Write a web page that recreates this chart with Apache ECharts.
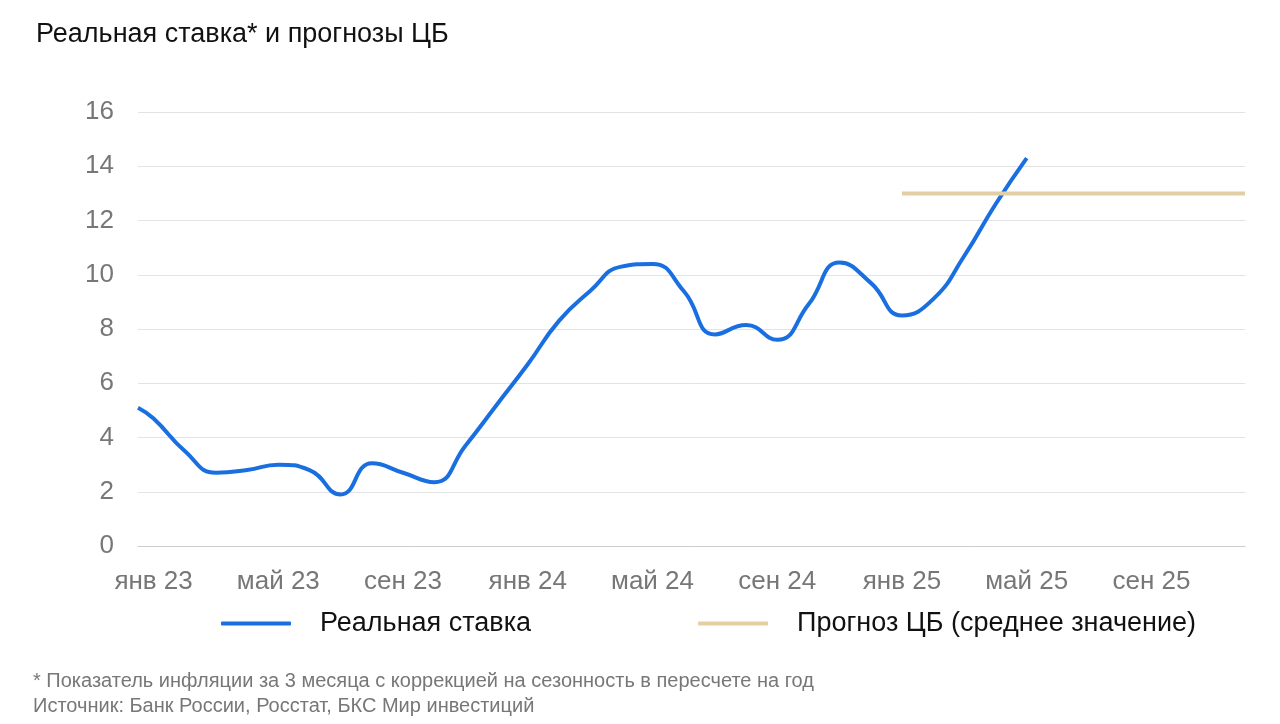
<!DOCTYPE html>
<html lang="ru">
<head>
<meta charset="UTF-8">
<title>Реальная ставка</title>
<style>
  body { margin: 0; background: #fff; }
  #c { width: 1280px; height: 724px; }
</style>
</head>
<body>
<div id="c"></div>
<script src="https://cdn.jsdelivr.net/npm/echarts@6/dist/echarts.min.js"></script>
<script>
// half-month steps from dec 22 (mid) to dec 25
var monthNames = ['янв', 'фев', 'мар', 'апр', 'май', 'июн', 'июл', 'авг', 'сен', 'окт', 'ноя', 'дек'];
// real rate at month points: янв 23 .. май 25
var realRate = [4.7, 3.5, 2.7, 2.8, 3.0, 2.8, 1.9, 3.05, 2.7, 2.35, 3.7, 5.2, 6.7, 8.3, 9.4, 10.3,
  10.4, 9.4, 7.8, 8.15, 7.6, 8.9, 10.45, 9.7, 8.5, 9.1, 10.7, 12.6, 14.3];
var firstValue = 5.1; // value at left edge
var forecastValue = 13;
var forecastStartMonth = 24; // янв 25

var FONT = 'Liberation Sans';

var cats = [];
for (var i = 0; i < 72; i++) {
  var m = (i - 1) / 2;
  if (i % 2 === 1) {
    cats.push(monthNames[m % 12] + ' ' + (23 + Math.floor(m / 12)));
  } else {
    cats.push('');
  }
}
var lineData = [], fcData = [];
for (var i = 0; i < 72; i++) {
  var m = (i - 1) / 2;
  if (i === 0) lineData.push(firstValue);
  else if (i % 2 === 1 && m < realRate.length) lineData.push(realRate[m]);
  else lineData.push(null);
  fcData.push(m >= forecastStartMonth ? forecastValue : null);
}

var chart = echarts.init(document.getElementById('c'));
chart.setOption({
  title: {
    text: 'Реальная ставка* и прогнозы ЦБ',
    left: 31, top: 16,
    textStyle: { fontFamily: FONT, fontSize: 27, fontWeight: 'normal', color: '#111' }
  },
  graphic: [{
    type: 'text', left: 33, top: 669,
    style: {
      text: '* Показатель инфляции за 3 месяца с коррекцией на сезонность в пересчете на год\nИсточник: Банк России, Росстат, БКС Мир инвестиций',
      font: '20px "Liberation Sans"', fill: '#777', lineHeight: 25
    }
  }],
  legend: {
    bottom: 82, left: 216, itemGap: 167, itemWidth: 70, itemHeight: 4,
    icon: 'roundRect',
    textStyle: { fontFamily: FONT, fontSize: 27, color: '#111', padding: [0, 0, 0, 24] },
    data: ['Реальная ставка', 'Прогноз ЦБ (среднее значение)']
  },
  grid: { left: 138, right: 35, top: 112, bottom: 178 },
  xAxis: {
    type: 'category', boundaryGap: false, data: cats,
    axisLine: { lineStyle: { color: '#ccc' } },
    axisTick: { show: false },
    axisLabel: {
      interval: function (i) { return (i - 1) % 8 === 0; },
      color: '#777', fontSize: 26, fontFamily: FONT, margin: 23
    }
  },
  yAxis: {
    type: 'value', min: 0, max: 16, interval: 2,
    axisLabel: { color: '#777', fontSize: 26, fontFamily: FONT, margin: 24 },
    splitLine: { lineStyle: { color: '#e3e3e3' } }
  },
  series: [{
    name: 'Реальная ставка', type: 'line', data: lineData, connectNulls: true,
    smooth: 0.5, showSymbol: false,
    lineStyle: { color: '#1a6fe0', width: 4 }, itemStyle: { color: '#1a6fe0' }
  }, {
    name: 'Прогноз ЦБ (среднее значение)', type: 'line', data: fcData, showSymbol: false,
    lineStyle: { color: '#e3cfa4', width: 4 }, itemStyle: { color: '#e3cfa4' }
  }]
});
</script>
</body>
</html>
